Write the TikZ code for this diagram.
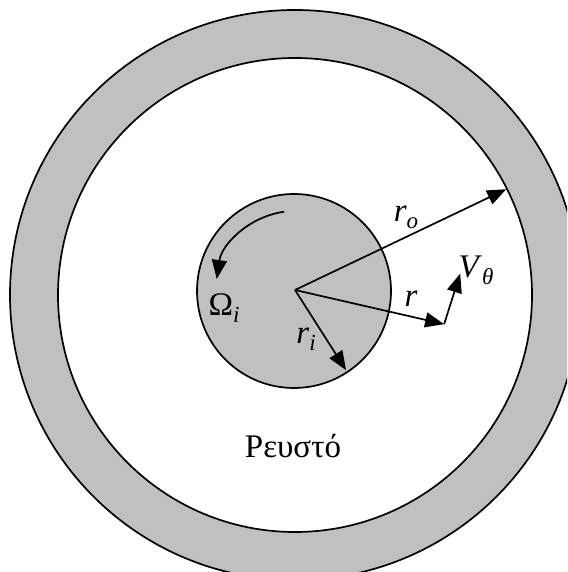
\documentclass[tikz,border=0pt]{standalone}
\usepackage{fontspec}
\setmainfont{Liberation Serif}
\newfontfamily\figfont{Liberation Serif}
\usepackage{tikz}
\usetikzlibrary{arrows.meta, calc}

\definecolor{wallgray}{RGB}{192,192,192}

\begin{document}
\begin{tikzpicture}[x=1pt, y=1pt,
    wall/.style={fill=wallgray, draw=black, line width=1.7pt},
    arr/.style={-{Triangle[length=19pt, width=15pt]}, line width=1.7pt},
    lbl/.style={font=\figfont\fontsize{33}{38}\selectfont, inner sep=0pt}
  ]
  \useasboundingbox (0,0) rectangle (567,572);
  \clip (0,0) rectangle (567,572);
  \fill[white] (0,0) rectangle (567,572);
  % Outer wall and fluid gap
  \coordinate (w) at (295,277);
  \draw[wall] (w) circle (285);
  \draw[fill=white, line width=1.7pt] (w) circle (237);
  % Inner cylinder
  \coordinate (c) at (295,282);
  \draw[wall] (294,281) circle (97);
  % radii
  \coordinate (ro) at ($(c)+(25.5:234)$);
  \coordinate (rr) at ($(c)+(-12.9:153)$);
  \coordinate (vt) at ($(rr)+(72.4:53)$);
  \coordinate (ri) at ($(c)+(-57.5:95)$);
  \draw[arr] (c) -- (ro);
  \draw[arr] (c) -- (rr);
  \draw[arr] (rr) -- (vt);
  \draw[arr] (c) -- (ri);
  % rotation
  \coordinate (om) at ($(c)+(98:79)$);
  \draw[arr] (om) arc[start angle=98, end angle=172, radius=79];
  % labels
  \node[lbl] (lro) at (406,355) {\textit{r}\raisebox{-7pt}{\fontsize{23}{26}\selectfont\textit{o}}};
  \node[lbl] (lr) at (411,273) {\textit{r}};
  \node[lbl] (lvt) at (476,302) {\textit{V}\raisebox{-7pt}{\fontsize{23}{26}\selectfont\textit{θ}}};
  \node[lbl] (lom) at (224,264) {Ω\raisebox{-7pt}{\fontsize{23}{26}\selectfont\textit{i}}};
  \node[lbl] (lri) at (306,233) {\textit{r}\raisebox{-7pt}{\fontsize{23}{26}\selectfont\textit{i}}};
  \node[lbl] (fl) at (293,126) {Ρευστό};
\end{tikzpicture}
\end{document}
